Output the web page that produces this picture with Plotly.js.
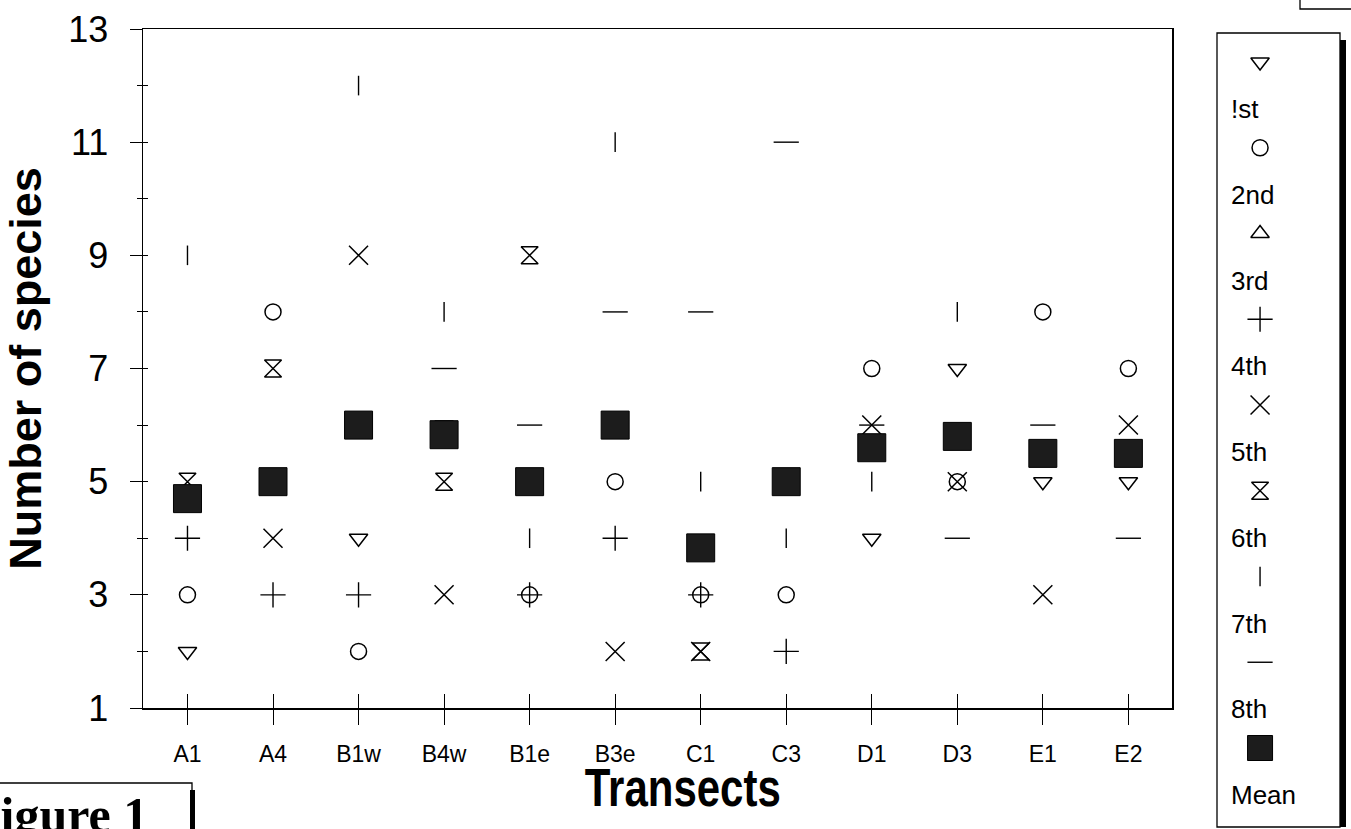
<!DOCTYPE html>
<html><head><meta charset="utf-8">
<script src="https://cdn.plot.ly/plotly-3.0.1.min.js"></script>
<style>html,body{margin:0;padding:0;background:#fff;} #chart{width:1351px;height:829px;}</style>
</head><body><div id="chart"></div>
<script>
// ---- data ----
const categories = ['A1','A4','B1w','B4w','B1e','B3e','C1','C3','D1','D3','E1','E2'];
const first   = [2, null, 4, 6, null, null, null, null, 4, 7, 5, 5];
const second  = [3, 8, 2, null, 3, 5, 3, 3, 7, 5, 8, 7];
const third   = [null, null, null, null, null, null, null, null, null, null, null, null];
const fourth  = [4, 3, 3, null, 3, 4, 3, 2, null, null, null, null];
const fifth   = [null, 4, 9, 3, null, 2, 2, null, 6, 5, 3, 6];
const sixth   = [5, 7, null, 5, 9, null, 2, null, null, null, null, null];
const seventh = [9, null, 12, 8, 4, 11, 5, 4, 5, 8, null, null];
const eighth  = [null, null, null, 7, 6, 8, 8, 11, 6, 4, 6, 4];
const mean    = [4.7, 5.0, 6.0, 5.83, 5.0, 6.0, 3.83, 5.0, 5.6, 5.8, 5.5, 5.5];
const yTickVals = [1, 3, 5, 7, 9, 11, 13];
const legendLabels = ['!st', '2nd', '3rd', '4th', '5th', '6th', '7th', '8th', 'Mean'];

// ---- styling ----
const W = 1351, H = 829;
const px = x => x / W;
const py = y => (H - y) / H;
const FONT = 'Liberation Sans, Arial, sans-serif';

const seriesDefs = [
  {name: legendLabels[0], y: first,   symbol: 'triangle-down-open', size: 16, lw: 1.5},
  {name: legendLabels[1], y: second,  symbol: 'circle-open',        size: 16, lw: 1.5},
  {name: legendLabels[2], y: third,   symbol: 'triangle-up-open',   size: 16, lw: 1.5},
  {name: legendLabels[3], y: fourth,  symbol: 'cross-thin-open',    size: 18, lw: 1.4},
  {name: legendLabels[4], y: fifth,   symbol: 'x-thin-open',        size: 19, lw: 1.5},
  {name: legendLabels[5], y: sixth,   symbol: 'hourglass-open',     size: 17, lw: 1.5},
  {name: legendLabels[6], y: seventh, symbol: 'line-ns-open',       size: 14, lw: 1.4},
  {name: legendLabels[7], y: eighth,  symbol: 'line-ew-open',       size: 18, lw: 1.4},
  {name: legendLabels[8], y: mean,    symbol: 'square',             size: 28, lw: 1, fill: true}
];
const MEAN_COLOR = '#1c1c1c';

const traces = seriesDefs.map(s => ({
  type: 'scatter', mode: 'markers', name: s.name,
  x: categories, y: s.y, xaxis: 'x', yaxis: 'y',
  showlegend: false, cliponaxis: false,
  marker: {
    symbol: s.symbol, size: s.size,
    color: s.fill ? MEAN_COLOR : '#000',
    line: {color: '#000', width: s.lw}
  }
}));

// custom legend: each symbol sits above its label
const legendSymbolX = 0.35;
seriesDefs.forEach((s, i) => {
  traces.push({
    type: 'scatter', mode: 'markers', xaxis: 'x3', yaxis: 'y3', showlegend: false,
    x: [legendSymbolX], y: [i], cliponaxis: false,
    marker: {
      symbol: s.symbol, size: s.fill ? 25 : s.size,
      color: s.fill ? MEAN_COLOR : '#000', opacity: 1,
      line: {color: '#000', width: s.lw}
    }
  });
});

const legendAnn = legendLabels.map((t, i) => ({
  xref: 'x3', yref: 'y3', x: 0.1, y: i + 0.55, text: t, showarrow: false,
  xanchor: 'left', yanchor: 'middle', font: {family: FONT, size: 26, color: '#000'}
}));

const annotations = legendAnn.concat([
  {xref: 'paper', yref: 'paper', x: px(150), y: py(785), text: '<b>Figure 1</b>', showarrow: false,
   xanchor: 'right', yanchor: 'top', font: {family: 'Liberation Serif, Times New Roman, serif', size: 50, color: '#000'}},
  {xref: 'paper', yref: 'paper', x: px(682), y: py(787), text: '<b>Transects</b>', showarrow: false,
   xanchor: 'center', yanchor: 'middle', font: {family: FONT, size: 53, color: '#000'}}
]);

const shapes = [
  // legend box and its shadow
  {type: 'rect', xref: 'paper', yref: 'paper', x0: px(1217), x1: px(1340), y0: py(827), y1: py(33),
   line: {color: '#000', width: 1.3}},
  {type: 'rect', xref: 'paper', yref: 'paper', x0: px(1340), x1: px(1346), y0: py(827), y1: py(40),
   line: {width: 0}, fillcolor: '#000'},
  // "Figure 1" box (cropped)
  {type: 'rect', xref: 'paper', yref: 'paper', x0: px(-10), x1: px(192), y0: py(845), y1: py(783),
   line: {color: '#000', width: 1.3}},
  {type: 'rect', xref: 'paper', yref: 'paper', x0: px(190), x1: px(195), y0: py(845), y1: py(790),
   line: {width: 0}, fillcolor: '#000'},
  // cropped box at top right
  {type: 'rect', xref: 'paper', yref: 'paper', x0: px(1300), x1: px(1360), y0: py(9), y1: py(-10),
   line: {color: '#000', width: 1.3}}
];

const xDomain = [px(143), px(1172)];
const yDomain = [py(708), py(29)];
const xRange = [-0.52, 11.51];
const yRange = [1, 13];

const layout = {
  width: W, height: H,
  margin: {l: 0, r: 0, t: 0, b: 0},
  paper_bgcolor: '#fff', plot_bgcolor: 'rgba(0,0,0,0)',
  showlegend: false,
  font: {family: FONT, color: '#000'},
  xaxis: {
    domain: xDomain, range: xRange, type: 'category', anchor: 'y',
    categoryorder: 'array', categoryarray: categories,
    showgrid: false, zeroline: false, showline: true, linecolor: '#000', linewidth: 1.5, mirror: true,
    ticks: 'outside', ticklen: 15, tickwidth: 1, tickcolor: '#000',
    tickfont: {family: FONT, size: 23, color: '#000'}, ticklabelstandoff: 10
  },
  yaxis: {
    domain: yDomain, range: yRange, anchor: 'x',
    showgrid: false, zeroline: false, showline: true, linecolor: '#000', linewidth: 1.5, mirror: true,
    tickmode: 'array', tickvals: yTickVals,
    ticks: 'outside', ticklen: 12, tickwidth: 1, tickcolor: '#000',
    minor: {dtick: 1, tick0: 0, ticks: 'outside', ticklen: 5, tickcolor: '#000', tickwidth: 1, showgrid: false},
    tickfont: {family: FONT, size: 36, color: '#000'}, ticklabelstandoff: 14,
    title: {text: 'Number of species', font: {family: FONT, size: 45, weight: 'bold', color: '#000'}, standoff: 16}
  },
  // overlay axes giving the inner half of the crossing ticks
  xaxis2: {
    overlaying: 'x', anchor: 'y', side: 'bottom', range: xRange, type: 'category',
    categoryorder: 'array', categoryarray: categories, showticklabels: false,
    ticks: 'inside', ticklen: 14, tickwidth: 1, tickcolor: '#000',
    showgrid: false, zeroline: false, showline: false
  },
  yaxis2: {
    overlaying: 'y', anchor: 'x', side: 'left', range: yRange,
    tickmode: 'array', tickvals: yTickVals, showticklabels: false,
    ticks: 'inside', ticklen: 5, tickwidth: 1, tickcolor: '#000',
    minor: {dtick: 1, tick0: 0, ticks: 'inside', ticklen: 5, tickcolor: '#000', tickwidth: 1, showgrid: false},
    showgrid: false, zeroline: false, showline: false
  },
  // axes for the hand-laid legend
  xaxis3: {domain: [px(1217), px(1340)], range: [0, 1], anchor: 'y3', visible: false, fixedrange: true},
  yaxis3: {domain: [0, 1], range: [(H - 62) / 85.75, -62 / 85.75], anchor: 'x3', visible: false, fixedrange: true},
  shapes: shapes,
  annotations: annotations
};

// invisible trace so the overlay axes know every category
traces.push({type: 'scatter', mode: 'markers', x: categories, y: categories.map(() => null),
  xaxis: 'x2', yaxis: 'y2', showlegend: false, hoverinfo: 'skip'});

Plotly.newPlot('chart', traces, layout, {displayModeBar: false, staticPlot: true}).then(gd => {
  // condense the bold "Transects" title like the original narrow face
  gd.querySelectorAll('.annotation-text').forEach(t => {
    if (t.textContent === 'Transects') {
      t.setAttribute('textLength', '196');
      t.setAttribute('lengthAdjust', 'spacingAndGlyphs');
    }
  });
});
</script>
</body></html>
